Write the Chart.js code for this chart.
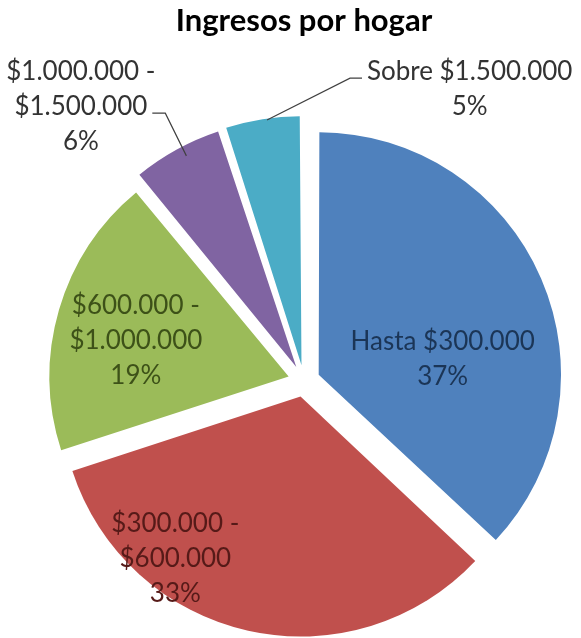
<!DOCTYPE html>
<html>
<head>
<meta charset="utf-8">
<script src="https://cdn.jsdelivr.net/npm/chart.js@4/dist/chart.umd.min.js"></script>
<style>
  html, body { margin: 0; padding: 0; background: #ffffff; }
  #wrap { width: 581px; height: 638px; }
</style>
</head>
<body>
<div id="wrap"><canvas id="c" width="581" height="638"></canvas></div>
<script>
// ---- data ----
const chartTitle = 'Ingresos por hogar';
const categories = ['Hasta $300.000', '$300.000 - $600.000', '$600.000 - $1.000.000', '$1.000.000 - $1.500.000', 'Sobre $1.500.000'];
const values = [37, 33, 19, 6, 5];

// ---- style ----
const sliceColors = ['#4F81BD', '#C0504D', '#9BBB59', '#8064A2', '#4BACC6'];
const labelColors = ['#1B3556', '#561A18', '#3D5118', '#333333', '#333333'];
// label placement: polar (clockwise degrees from top, fraction of radius) from each slice's exploded vertex
const labelLayout = [
  { a: 83,    rf: 0.525 },
  { a: 217.7, rf: 0.86 },
  { a: 283.4, rf: 0.66 },
  { a: 320.4, rf: 1.42, leader: { edge: { a: 332.5, rf: 1.0 }, elbow: { a: 332.7, rf: 1.2 }, dx: -13 } },
  { a: 31.3,  rf: 1.36, leader: { edge: { a: 352, rf: 1.04 }, elbow: { a: 9.6, rf: 1.223 }, dx: 12 } }
];
const FONT = 'Lato, "Open Sans", sans-serif';
const labelSize = 26;
const lineGap = 35;
const explode = 16;      // visible px shift of each slice
const pieRadius = 238;

function labelLines(i) {
  const total = values.reduce((s, v) => s + v, 0);
  const pct = Math.round(values[i] / total * 100) + '%';
  const name = categories[i];
  const parts = name.split(' - ');
  const lines = parts.length > 1 ? [parts[0] + ' -', parts[1]] : [name];
  lines.push(pct);
  return lines;
}

function toXY(vx, vy, aDeg, r) {
  const t = (aDeg - 90) * Math.PI / 180;
  return [vx + Math.cos(t) * r, vy + Math.sin(t) * r];
}

const labelPlugin = {
  id: 'sliceLabels',
  afterDatasetsDraw(chart) {
    const ctx = chart.ctx;
    const meta = chart.getDatasetMeta(0);
    meta.data.forEach((arc, i) => {
      const p = arc.getProps(['x', 'y', 'startAngle', 'endAngle', 'outerRadius'], true);
      const mid = (p.startAngle + p.endAngle) / 2;
      const off = (arc.options.offset || 0) / 4;
      const vx = p.x + Math.cos(mid) * off;
      const vy = p.y + Math.sin(mid) * off;
      const R = p.outerRadius;
      const L = labelLayout[i];
      const [cx, cy] = toXY(vx, vy, L.a, L.rf * R);
      const lines = labelLines(i);
      ctx.save();
      if (L.leader) {
        const [ex, ey] = toXY(vx, vy, L.leader.edge.a, L.leader.edge.rf * R);
        const [bx, by] = toXY(vx, vy, L.leader.elbow.a, L.leader.elbow.rf * R);
        ctx.beginPath();
        ctx.moveTo(ex, ey);
        ctx.lineTo(bx, by);
        ctx.lineTo(bx + L.leader.dx, by);
        ctx.strokeStyle = '#404040';
        ctx.lineWidth = 1.2;
        ctx.stroke();
      }
      ctx.fillStyle = labelColors[i];
      ctx.font = labelSize + 'px ' + FONT;
      ctx.textAlign = 'center';
      ctx.textBaseline = 'middle';
      const y0 = cy - (lines.length - 1) * lineGap / 2;
      lines.forEach((ln, k) => ctx.fillText(ln, cx, y0 + k * lineGap));
      ctx.restore();
    });
  }
};

new Chart(document.getElementById('c'), {
  type: 'pie',
  data: {
    labels: categories,
    datasets: [{
      data: values,
      backgroundColor: sliceColors,
      borderWidth: 0,
      radius: pieRadius,
      clip: false,
      // Chart.js v4 shifts an arc by offset/4
      offset: explode * 4
    }]
  },
  options: {
    responsive: false,
    devicePixelRatio: 1,
    animation: false,
    layout: { padding: { left: 27, right: 0, top: 0, bottom: 0 } },
    plugins: {
      legend: { display: false },
      tooltip: { enabled: false },
      title: {
        display: true,
        text: chartTitle,
        color: '#000000',
        font: { family: FONT, size: 31, weight: 'bold' },
        padding: { top: 2, bottom: 84.8 }
      }
    }
  },
  plugins: [labelPlugin]
});
</script>
</body>
</html>
